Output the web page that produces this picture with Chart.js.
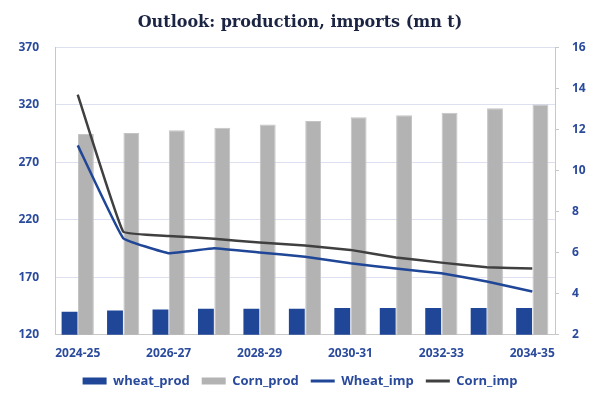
<!DOCTYPE html>
<html>
<head>
<meta charset="utf-8">
<script src="https://cdn.jsdelivr.net/npm/chart.js@4"></script>
<style>
  html, body { margin: 0; padding: 0; background: #ffffff; }
  #wrap { width: 600px; height: 400px; position: relative; }
</style>
</head>
<body>
<div id="wrap"><canvas id="c" width="600" height="400"></canvas></div>
<script>
const categories = ['2024-25','2025-26','2026-27','2027-28','2028-29','2029-30','2030-31','2031-32','2032-33','2033-34','2034-35'];
const wheatProd = [140, 141, 142, 142.6, 142.6, 142.6, 143.3, 143.3, 143.3, 143.3, 143.3];
const cornProd  = [294.6, 295.4, 297.7, 300, 302.7, 305.9, 309, 310.8, 313.1, 316.9, 320.1];
const wheatImp  = [11.22, 6.70, 5.97, 6.21, 6.00, 5.80, 5.48, 5.22, 4.99, 4.59, 4.10];
const cornImp   = [13.69, 7.02, 6.81, 6.67, 6.49, 6.34, 6.13, 5.76, 5.51, 5.29, 5.22];
const leftTicks = [120, 170, 220, 270, 320, 370];
const rightTicks = [2, 4, 6, 8, 10, 12, 14, 16];

const BLUE = '#1f4697';
const GREY = '#b3b3b3';
const DARK = '#404040';
const TXT = '#2a4a9c';
const tickFont = { family: 'Open Sans', size: 12, weight: 'bold' };

new Chart(document.getElementById('c'), {
  type: 'bar',
  data: {
    labels: categories,
    datasets: [
      { label: 'wheat_prod', data: wheatProd, backgroundColor: BLUE, yAxisID: 'y', order: 2,
        categoryPercentage: 0.72, barPercentage: 0.97 },
      { label: 'Corn_prod', data: cornProd, backgroundColor: GREY, borderColor: '#c4c4c4', borderWidth: {left:1,right:1,top:1,bottom:0}, yAxisID: 'y', order: 2,
        categoryPercentage: 0.72, barPercentage: 0.97 },
      { type: 'line', label: 'Wheat_imp', data: wheatImp, borderColor: BLUE, backgroundColor: BLUE, borderWidth: 2.5,
        pointRadius: 0, tension: 0.08, yAxisID: 'y2', order: 1 },
      { type: 'line', label: 'Corn_imp', data: cornImp, borderColor: DARK, backgroundColor: DARK, borderWidth: 2.5,
        pointRadius: 0, tension: 0.08, yAxisID: 'y2', order: 0 }
    ]
  },
  options: {
    responsive: false,
    animation: false,
    layout: { padding: { top: 0, left: 0, right: 0, bottom: 2.5 } },
    plugins: {
      title: {
        display: true,
        text: 'Outlook: production, imports (mn t)',
        font: { family: 'DejaVu Serif', size: 16, weight: 'bold' },
        color: '#1b2442',
        padding: { top: 13, bottom: 15 }
      },
      legend: {
        position: 'bottom',
        labels: {
          usePointStyle: true,
          pointStyleWidth: 24,
          boxHeight: 7,
          padding: 12,
          color: TXT,
          font: { family: 'Open Sans', size: 13, weight: 'bold' },
          sort: (a, b) => a.datasetIndex - b.datasetIndex,
          generateLabels(chart) {
            const items = Chart.defaults.plugins.legend.labels.generateLabels(chart);
            items.forEach(it => {
              const ds = chart.data.datasets[it.datasetIndex];
              if (ds.type === 'line') {
                it.pointStyle = 'line'; it.lineWidth = 3; it.strokeStyle = ds.borderColor;
              } else {
                it.pointStyle = 'rect'; it.lineWidth = 0; it.fillStyle = ds.backgroundColor; it.strokeStyle = ds.backgroundColor;
              }
            });
            return items;
          }
        }
      },
      tooltip: { enabled: false }
    },
    scales: {
      x: {
        offset: true,
        grid: { display: false, drawTicks: false },
        border: { display: true, color: '#c8c8c8', width: 1 },
        afterFit(s) { s.height = 27.8; },
        ticks: {
          autoSkip: false, maxRotation: 0, padding: 12, color: TXT, font: tickFont,
          callback(v, i) { return i % 2 === 0 ? categories[i] : ''; }
        }
      },
      y: {
        position: 'left',
        min: 120, max: 370,
        afterBuildTicks(s) { s.ticks = leftTicks.map(v => ({ value: v })); },
        afterFit(s) { s.width = 55; },
        grid: { color: '#dde0f0', lineWidth: 1, drawTicks: false },
        border: { display: true, color: '#c8c8c8' },
        ticks: { padding: 16, color: TXT, font: tickFont }
      },
      y2: {
        position: 'right',
        min: 2, max: 16,
        afterBuildTicks(s) { s.ticks = rightTicks.map(v => ({ value: v })); },
        afterFit(s) { s.width = 45; },
        grid: { drawOnChartArea: false, drawTicks: true, tickLength: 4, color: '#c8c8c8' },
        border: { display: true, color: '#c8c8c8' },
        ticks: { padding: 13, color: TXT, font: tickFont }
      }
    }
  }
});
</script>
</body>
</html>
